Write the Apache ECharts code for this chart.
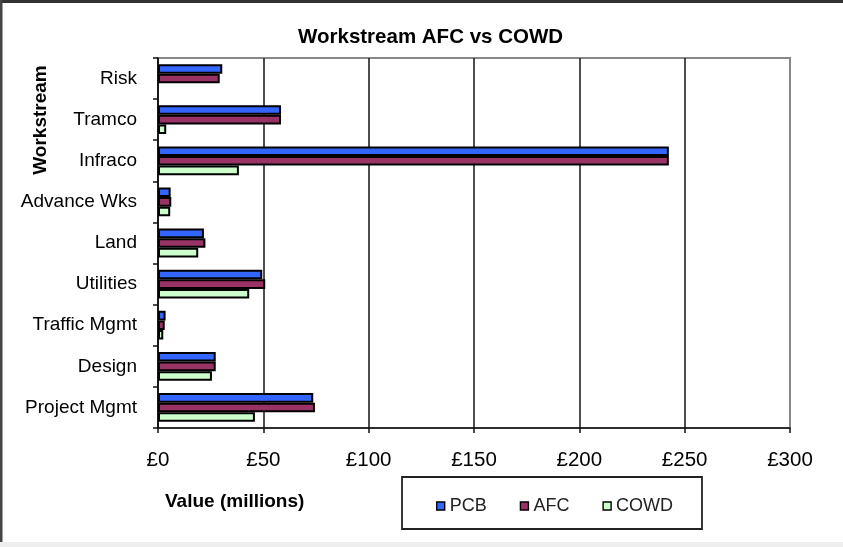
<!DOCTYPE html>
<html>
<head>
<meta charset="utf-8">
<script src="https://cdn.jsdelivr.net/npm/echarts@6/dist/echarts.min.js"></script>
<style>
  html, body { margin: 0; padding: 0; background: #fff; }
  #chart { width: 843px; height: 547px; }
</style>
</head>
<body>
<div id="chart"></div>
<script>
// workstreams, top to bottom as in the picture
var workstreams = ['Risk', 'Tramco', 'Infraco', 'Advance Wks', 'Land', 'Utilities', 'Traffic Mgmt', 'Design', 'Project Mgmt'];
// values in £ millions
var pcb  = [30.5, 58.4, 242.5, 6.0, 21.8, 49.5, 3.6, 27.4, 73.7];
var afc  = [29.3, 58.4, 242.5, 6.3, 22.5, 50.9, 3.2, 27.4, 74.5];
var cowd = [null, 3.9, 38.4, 5.8, 19.1, 43.3, 2.5, 25.6, 46.0];
var seriesNames = ['PCB', 'AFC', 'COWD'];
var seriesColors = ['#3366ff', '#993366', '#ccffcc'];

var chartDom = document.getElementById('chart');
var myChart = echarts.init(chartDom);

var font = 'Liberation Sans, Arial, sans-serif';
var lstData = [pcb, afc, cowd];
var series = [];
for (var i = 0; i < seriesNames.length; i++) {
    series.push({
        name: seriesNames[i],
        type: 'bar',
        data: lstData[i],
        barWidth: 9.6,
        barGap: '0%',
        itemStyle: {
            color: seriesColors[i],
            borderColor: '#000',
            borderWidth: 2
        },
        animation: false
    });
}

var option = {
    backgroundColor: '#fff',
    animation: false,
    title: [
        {
            text: 'Workstream AFC vs COWD',
            left: 298,
            top: 27,
            padding: 0,
            textStyle: { fontFamily: font, fontSize: 20.5, fontWeight: 'bold', color: '#000' }
        },
        {
            text: 'Value (millions)',
            left: 165,
            top: 492,
            padding: 0,
            textStyle: { fontFamily: font, fontSize: 19, fontWeight: 'bold', color: '#000' }
        }
    ],
    legend: {
        data: seriesNames,
        left: 431,
        top: 492,
        icon: 'rect',
        itemWidth: 8,
        itemHeight: 8,
        itemGap: 33,
        itemStyle: { borderWidth: 1.4, borderColor: '#000' },
        textStyle: { fontFamily: font, fontSize: 18, color: '#222' }
    },
    grid: {
        left: 158,
        right: 53,
        top: 58,
        bottom: 119,
        show: true,
        borderColor: '#888',
        borderWidth: 2
    },
    xAxis: {
        type: 'value',
        min: 0,
        max: 300,
        interval: 50,
        axisLine: { show: true, lineStyle: { color: '#111', width: 1.5 } },
        axisTick: { show: true, length: 5, lineStyle: { color: '#111', width: 1.5 } },
        axisLabel: {
            margin: 22,
            fontFamily: font,
            fontSize: 20.5,
            color: '#000',
            formatter: function (v) { return '£' + v; }
        },
        splitLine: {
            show: true,
            lineStyle: { color: ['#222', '#222', '#222', '#222', '#222', '#222', '#888'], width: 1.6 }
        }
    },
    yAxis: {
        type: 'category',
        inverse: true,
        data: workstreams,
        axisLine: { show: true, lineStyle: { color: '#111', width: 1.5 } },
        axisTick: { show: true, length: 5, lineStyle: { color: '#111', width: 1.5 } },
        axisLabel: { margin: 21, fontFamily: font, fontSize: 19, color: '#000' }
    },
    graphic: [
        { type: 'rect', shape: { x: 0, y: 0, width: 843, height: 3 }, style: { fill: '#333' }, silent: true },
        { type: 'rect', shape: { x: 0, y: 0, width: 2.5, height: 542 }, style: { fill: '#444' }, silent: true },
        { type: 'rect', shape: { x: 0, y: 542, width: 843, height: 5 }, style: { fill: '#eeeeee' }, silent: true },
        {
            type: 'rect', z: -1,
            shape: { x: 402, y: 477, width: 300, height: 52 },
            style: { fill: '#fff', stroke: '#222', lineWidth: 1.8 }, silent: true
        },
        {
            type: 'text', x: 41, y: 120, rotation: Math.PI / 2,
            style: {
                text: 'Workstream', fill: '#000', align: 'center', verticalAlign: 'middle',
                font: 'bold 19px ' + font
            },
            silent: true
        }
    ],
    series: series
};

option && myChart.setOption(option);
</script>
</body>
</html>
